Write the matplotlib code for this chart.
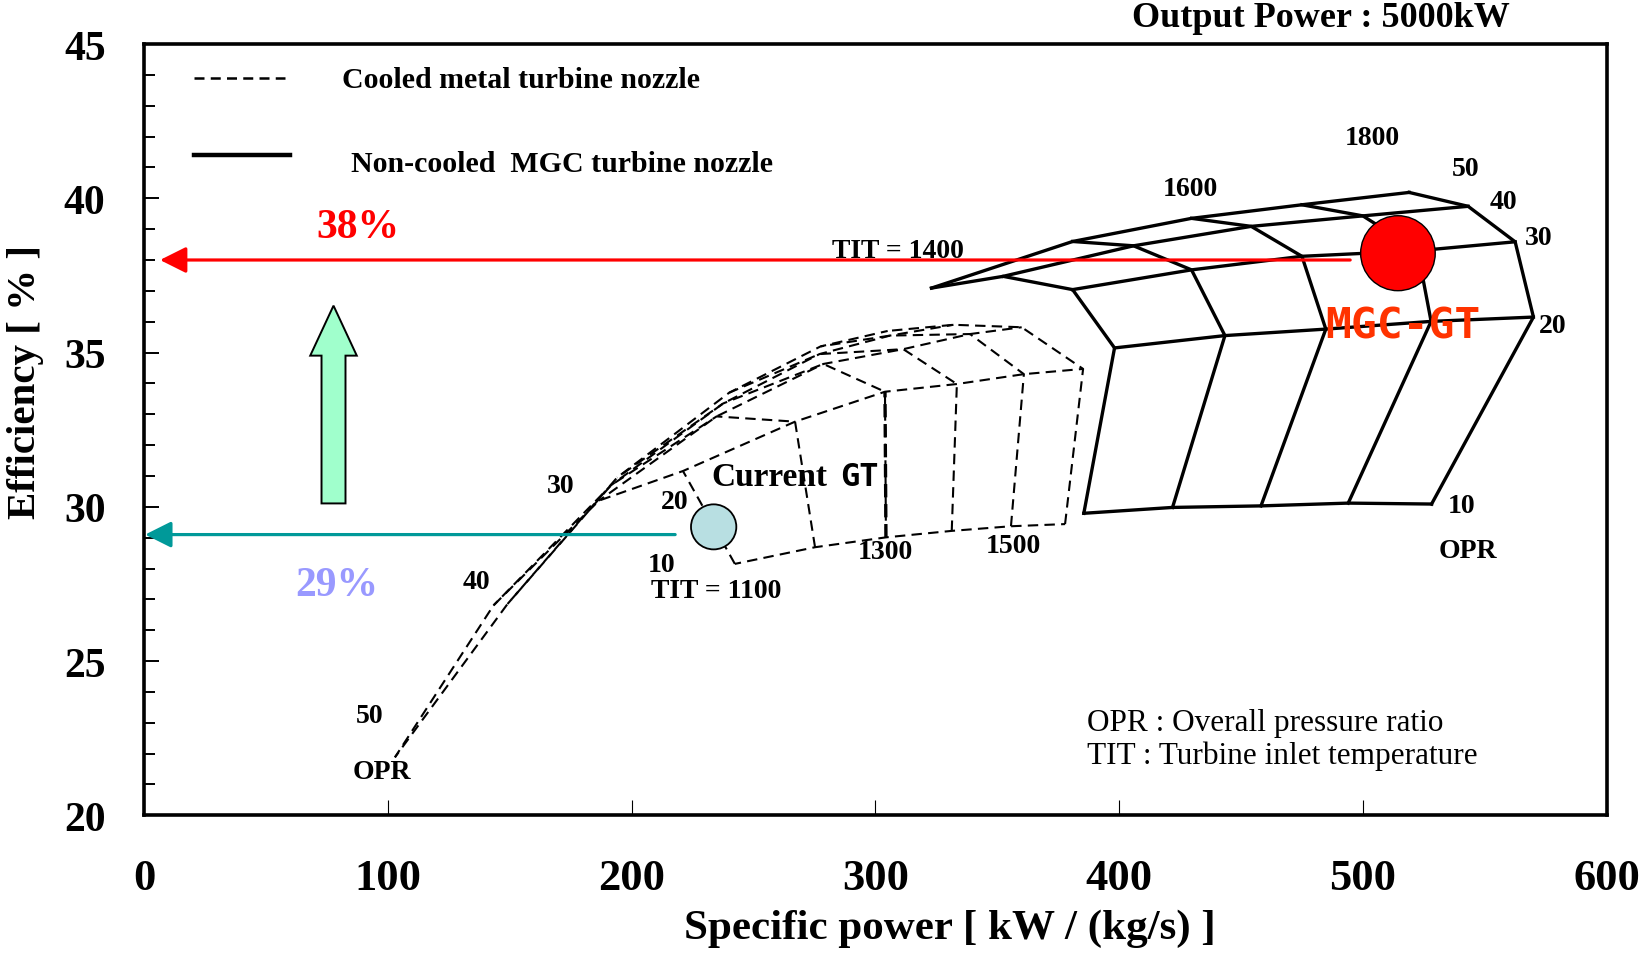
import matplotlib
matplotlib.use('Agg')
import matplotlib.pyplot as plt
from matplotlib.patches import Ellipse, FancyArrow

# ---- data ----
opr = [10, 20, 30, 40, 50]

# cooled metal nozzle (dashed), one row per TIT, values for OPR 10..50
tit_metal = [1100, 1200, 1300, 1400, 1500, 1600]
metal_power = [
    [242.3, 221.0, 186.5, 143.2, 102.8],
    [275.2, 267.0, 234.8, 191.5, 149.0],
    [304.3, 303.9, 278.6, 237.5, 194.0],
    [331.3, 333.4, 311.4, 277.0, 240.0],
    [355.6, 360.9, 338.8, 306.0, 277.5],
    [377.8, 385.2, 360.0, 332.0, 305.0],
]
metal_eff = [
    [28.15, 31.16, 30.20, 26.80, 21.88],
    [28.69, 32.76, 32.93, 30.70, 26.85],
    [29.01, 33.73, 34.63, 33.35, 30.95],
    [29.22, 33.98, 35.11, 34.95, 33.70],
    [29.37, 34.30, 35.60, 35.55, 35.20],
    [29.44, 34.47, 35.82, 35.90, 35.70],
]

# non-cooled MGC nozzle (solid)
tit_mgc = [1400, 1500, 1600, 1700, 1800]
mgc_power = [
    [385.5, 398.1, 380.9, 352.4, 323.0],
    [421.9, 443.4, 429.7, 405.9, 380.9],
    [458.2, 484.8, 475.0, 454.2, 429.7],
    [494.0, 528.0, 522.5, 500.0, 475.0],
    [528.2, 570.0, 562.5, 543.2, 519.0],
]
mgc_eff = [
    [29.79, 35.15, 37.04, 37.47, 37.09],
    [29.98, 35.55, 37.68, 38.46, 38.60],
    [30.03, 35.76, 38.12, 39.09, 39.35],
    [30.12, 36.01, 38.30, 39.43, 39.79],
    [30.09, 36.15, 38.59, 39.74, 40.19],
]

current_gt = (233.6, 29.35)
mgc_gt = (514.4, 38.22)
eff_current = 29.1
eff_mgc = 38.0

serif = 'Liberation Serif'
mono = 'DejaVu Sans Mono'
dash = (0, (5, 3))

fig = plt.figure(figsize=(16.41, 9.54), dpi=100)
ax = fig.add_axes([0.0880, 0.1443, 0.8910, 0.8085])

# dashed grid: TIT lines and OPR lines
for i in range(len(tit_metal)):
    ax.plot(metal_power[i], metal_eff[i], color='black', lw=1.5, linestyle=dash)
for j in range(len(opr)):
    ax.plot([r[j] for r in metal_power], [r[j] for r in metal_eff],
            color='black', lw=1.5, linestyle=(2, (5, 3)))
# TIT 1300 lower segment drawn heavier
k = tit_metal.index(1300)
ax.plot(metal_power[k][:2], metal_eff[k][:2], color='black', lw=2.4, linestyle=(0, (4, 2)))

# solid grid
for i in range(len(tit_mgc)):
    ax.plot(mgc_power[i], mgc_eff[i], color='black', lw=2.4)
for j in range(len(opr)):
    ax.plot([r[j] for r in mgc_power], [r[j] for r in mgc_eff], color='black', lw=2.4)

# efficiency arrows
ax.annotate('', xy=(6.4, eff_mgc), xytext=(494.8, eff_mgc),
            arrowprops=dict(arrowstyle='-|>,head_length=1.6,head_width=0.8', color='#FF0000',
                            lw=2.3, shrinkA=0, shrinkB=0, mutation_scale=10))
ax.annotate('', xy=(0.3, eff_current), xytext=(217.8, eff_current),
            arrowprops=dict(arrowstyle='-|>,head_length=1.6,head_width=0.8', color='#009999',
                            lw=2.3, shrinkA=0, shrinkB=0, mutation_scale=10))

ax.add_patch(FancyArrow(77.6, 30.11, 0, 6.41, width=9.84, head_width=19.1, head_length=1.62,
                        length_includes_head=True, facecolor='#A0FFCC', edgecolor='black', lw=1.4,
                        zorder=3))

ax.add_patch(Ellipse(mgc_gt, 30.6, 2.43, facecolor='#FF0000', edgecolor='black', lw=1.0, zorder=4))
ax.add_patch(Ellipse(current_gt, 18.6, 1.46, facecolor='#B8DFE2', edgecolor='black', lw=1.3, zorder=4))

# legend
ax.plot([20.2, 57.6], [43.91, 43.91], color='black', lw=1.8, linestyle=(0, (4, 2.5)))
ax.plot([20.2, 59.7], [41.40, 41.40], color='black', lw=3.2)
ax.text(81.2, 43.85, 'Cooled metal turbine nozzle', fontsize=21.5, fontweight='bold',
        family=serif, va='center')
ax.text(84.6, 41.13, 'Non-cooled  MGC turbine nozzle', fontsize=21.5, fontweight='bold',
        family=serif, va='center')

# annotations
def lab(x, y, s, size=20, **kw):
    ax.text(x, y, s, fontsize=size, fontweight='bold', family=serif,
            ha='center', va='center', **kw)

lab(87.6, 39.06, '38%', size=30, color='#FF0000')
lab(79.0, 27.46, '29%', size=30, color='#9999FF')
lab(503.8, 41.98, '1800')
lab(429.1, 40.32, '1600')
lab(542.0, 40.96, '50')
lab(557.5, 39.91, '40')
lab(572.1, 38.72, '30')
lab(577.7, 35.88, '20')
lab(540.7, 30.04, '10')
lab(543.3, 28.58, 'OPR')
lab(309.2, 38.32, 'TIT = 1400')
lab(170.9, 30.69, '30')
lab(217.8, 30.18, '20')
lab(212.2, 28.14, '10')
lab(234.5, 27.29, 'TIT = 1100')
lab(304.1, 28.55, '1300')
lab(356.5, 28.75, '1500')
lab(136.2, 27.57, '40')
lab(92.3, 23.22, '50')
lab(97.5, 21.43, 'OPR')

ax.text(232.8, 30.99, 'Current', fontsize=24, fontweight='bold', family=serif, va='center')
ax.text(285.5, 30.99, 'GT', fontsize=23, fontweight='bold', family=mono, va='center')
ax.text(516.3, 35.88, 'MGC-GT', fontsize=31, fontweight='bold', family=mono, color='#FF3300',
        ha='center', va='center', zorder=5)

ax.text(386.6, 23.02, 'OPR : Overall pressure ratio', fontsize=22.5, family=serif, va='center')
ax.text(386.6, 21.94, 'TIT : Turbine inlet temperature', fontsize=22.5, family=serif, va='center')

fig.text(0.805, 0.981, 'Output Power : 5000kW', fontsize=26, fontweight='bold', family=serif,
         ha='center', va='center')

# axes
ax.set_xlim(0, 600)
ax.set_ylim(20, 45)
ax.set_xticks(range(0, 601, 100))
ax.set_yticks(range(20, 46, 5))
ax.set_yticks(range(20, 46), minor=True)
ax.tick_params(axis='x', direction='in', length=11, width=0.8, pad=31, labelsize=32,
               top=False)
ax.tick_params(axis='y', which='major', direction='in', length=11, width=1.4, pad=28,
               labelsize=30, right=False)
ax.tick_params(axis='y', which='minor', direction='in', length=8, width=1.4, right=False)
for lbl in ax.get_xticklabels() + ax.get_yticklabels():
    lbl.set_fontfamily(serif)
    lbl.set_fontweight('bold')
for s in ax.spines.values():
    s.set_linewidth(2.6)

ax.text(0.551, -0.146, 'Specific power [ kW / (kg/s) ]', transform=ax.transAxes,
        fontsize=31, fontweight='bold', family=serif, ha='center', va='center')
ax.text(-0.081, 0.563, 'Efficiency [ % ]', transform=ax.transAxes, rotation=90,
        fontsize=29.5, fontweight='bold', family=serif, ha='center', va='center')

fig.savefig('out.png', dpi=100)
